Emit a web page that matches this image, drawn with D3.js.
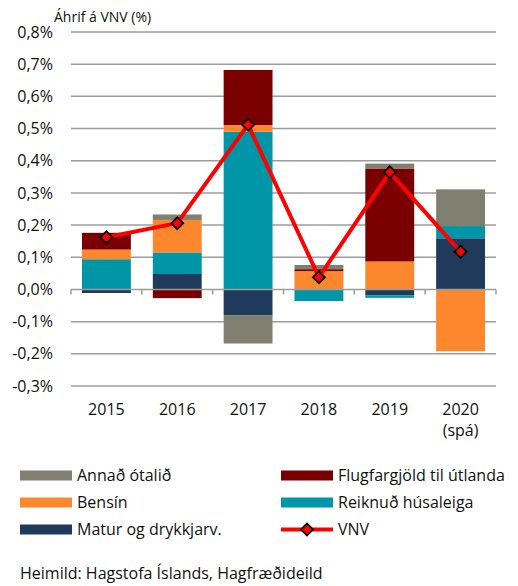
<!DOCTYPE html>
<html>
<head>
<meta charset="utf-8">
<script src="https://cdn.jsdelivr.net/npm/d3@7"></script>
<style>
  body { margin: 0; background: #fff; }
  svg { display: block; font-family: "Open Sans", sans-serif; }
</style>
</head>
<body>
<div id="chart"></div>
<script>
// values in % points of CPI impact
const years = ["2015", "2016", "2017", "2018", "2019", "2020"];
const yearSub = ["", "", "", "", "", "(spá)"];
const matur     = [-0.011, 0.048, -0.081, 0.000, -0.018, 0.159];
const husaleiga = [0.094, 0.067, 0.490, -0.036, -0.008, 0.038];
const bensin    = [0.030, 0.101, 0.021, 0.057, 0.087, -0.192];
const flug      = [0.052, -0.027, 0.171, 0.006, 0.289, 0.000];
const annad     = [0.000, 0.017, -0.087, 0.013, 0.015, 0.114];
const vnv       = [0.162, 0.206, 0.512, 0.038, 0.364, 0.117];
const yTicks = [-0.3, -0.2, -0.1, 0, 0.1, 0.2, 0.3, 0.4, 0.5, 0.6, 0.7, 0.8];

const series = [
  { key: "matur", name: "Matur og drykkjarv.", color: "#1f3a5a", values: matur },
  { key: "husaleiga", name: "Reiknuð húsaleiga", color: "#0096a7", values: husaleiga },
  { key: "bensin", name: "Bensín", color: "#fd872c", values: bensin },
  { key: "flug", name: "Flugfargjöld til útlanda", color: "#7a0000", values: flug },
  { key: "annad", name: "Annað ótalið", color: "#808070", values: annad }
];

const W = 518, H = 586;
const plot = { left: 71, right: 496, top: 32, bottom: 386 };
const txt = "#111";

const svg = d3.select("#chart").append("svg")
  .attr("width", W).attr("height", H);

const x = d3.scaleBand().domain(years)
  .range([plot.left, plot.right])
  .paddingInner(0.31).paddingOuter(0.155);
const y = d3.scaleLinear().domain([-0.3, 0.8]).range([plot.bottom, plot.top]);

const rows = years.map((yr, i) => {
  const r = { year: yr };
  series.forEach(s => { r[s.key] = s.values[i]; });
  return r;
});
const stack = d3.stack()
  .keys(series.map(s => s.key))
  .order(d3.stackOrderNone)
  .offset(d3.stackOffsetDiverging);
const layers = stack(rows);

const fmt = v => d3.format(".1f")(v).replace(".", ",").replace("−", "-") + "%";

// gridlines
svg.append("g").selectAll("line")
  .data(yTicks.filter(t => t !== 0)).join("line")
  .attr("x1", plot.left).attr("x2", plot.right)
  .attr("y1", d => y(d)).attr("y2", d => y(d))
  .attr("stroke", "#9c9c9c").attr("stroke-width", 1.5);

// y labels
svg.append("g").selectAll("text")
  .data(yTicks).join("text")
  .attr("x", 53).attr("y", d => y(d))
  .attr("dy", "0.35em")
  .attr("text-anchor", "end")
  .style("font-size", "16px").style("fill", txt)
  .text(fmt);

// bars
svg.append("g").selectAll("g")
  .data(layers).join("g")
  .attr("fill", (d, i) => series[i].color)
  .selectAll("rect")
  .data(d => d).join("rect")
  .attr("x", d => x(d.data.year))
  .attr("width", x.bandwidth())
  .attr("y", d => y(Math.max(d[0], d[1])))
  .attr("height", d => Math.abs(y(d[0]) - y(d[1])));

// zero axis with ticks between categories
const axisG = svg.append("g").attr("stroke", "#9c9c9c").attr("stroke-width", 1.5);
axisG.append("line")
  .attr("x1", plot.left).attr("x2", plot.right)
  .attr("y1", y(0)).attr("y2", y(0));
const bounds = years.map(yr => x(yr) - (x.step() - x.bandwidth()) / 2).concat([plot.right]);
axisG.selectAll(".tick").data(bounds).join("line")
  .attr("x1", d => d).attr("x2", d => d)
  .attr("y1", y(0)).attr("y2", y(0) + 5);

// year labels
svg.append("g").selectAll("text")
  .data(years).join("text")
  .attr("x", d => x(d) + x.bandwidth() / 2)
  .attr("y", 415)
  .attr("text-anchor", "middle")
  .style("font-size", "16px").style("fill", txt)
  .text(d => d);
svg.append("g").selectAll("text")
  .data(years.filter((d, i) => yearSub[i])).join("text")
  .attr("x", d => x(d) + x.bandwidth() / 2)
  .attr("y", 436)
  .attr("text-anchor", "middle")
  .style("font-size", "16px").style("fill", txt)
  .text(d => yearSub[years.indexOf(d)]);

// VNV line
const line = d3.line()
  .x((d, i) => x(years[i]) + x.bandwidth() / 2)
  .y(d => y(d));
svg.append("path")
  .datum(vnv)
  .attr("d", line)
  .attr("fill", "none").attr("stroke", "#ff0000").attr("stroke-width", 4)
  .attr("stroke-linejoin", "round");

const diamond = d3.symbol().type(d3.symbolSquare).size(72);
svg.append("g").selectAll("path")
  .data(vnv).join("path")
  .attr("d", diamond)
  .attr("transform", (d, i) => `translate(${x(years[i]) + x.bandwidth() / 2},${y(d)}) rotate(45)`)
  .attr("fill", "#ff0000").attr("stroke", "#000").attr("stroke-width", 1.8);

// title
svg.append("text")
  .attr("x", 54).attr("y", 22)
  .style("font-size", "14px").style("fill", txt)
  .text("Áhrif á VNV (%)");

// legend
const legendItems = [
  { name: "Annað ótalið", color: "#808070", col: 0, row: 0 },
  { name: "Flugfargjöld til útlanda", color: "#7a0000", col: 1, row: 0 },
  { name: "Bensín", color: "#fd872c", col: 0, row: 1 },
  { name: "Reiknuð húsaleiga", color: "#0096a7", col: 1, row: 1 },
  { name: "Matur og drykkjarv.", color: "#1f3a5a", col: 0, row: 2 },
  { name: "VNV", color: "#ff0000", col: 1, row: 2, line: true }
];
const lg = svg.append("g").selectAll("g")
  .data(legendItems).join("g")
  .attr("transform", d => `translate(${d.col ? 281 : 20},${475.5 + d.row * 27})`);
lg.filter(d => !d.line).append("rect")
  .attr("x", 0).attr("y", -5).attr("width", 52).attr("height", 10)
  .attr("fill", d => d.color);
const lgLine = lg.filter(d => d.line);
lgLine.append("line")
  .attr("x1", 0).attr("x2", 52).attr("y1", 0).attr("y2", 0)
  .attr("stroke", "#ff0000").attr("stroke-width", 4);
lgLine.append("path")
  .attr("d", diamond)
  .attr("transform", "translate(26,0) rotate(45)")
  .attr("fill", "#ff0000").attr("stroke", "#000").attr("stroke-width", 1.8);
lg.append("text")
  .attr("x", 57).attr("y", 0).attr("dy", "0.35em")
  .style("font-size", "16px").style("fill", txt)
  .text(d => d.name);

// source
svg.append("text")
  .attr("x", 20).attr("y", 579)
  .style("font-size", "16px").style("fill", txt)
  .text("Heimild: Hagstofa Íslands, Hagfræðideild");
</script>
</body>
</html>
